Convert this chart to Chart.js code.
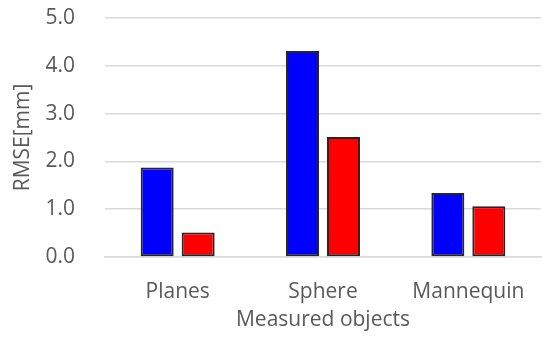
<!DOCTYPE html>
<html>
<head>
<meta charset="utf-8">
<script src="https://cdn.jsdelivr.net/npm/chart.js@4/dist/chart.umd.min.js"></script>
<style>
html, body { margin: 0; padding: 0; background: #fff; }
#wrap { width: 542px; height: 341px; }
</style>
</head>
<body>
<div id="wrap"><canvas id="canvas" width="542" height="341"></canvas></div>
<script>
// values
let objects = ['Planes', 'Sphere', 'Mannequin'];
let blueValues = [1.87, 4.31, 1.34];
let redValues = [0.51, 2.51, 1.06];
let yTicks = [0, 1, 2, 3, 4, 5];

let font = "'Open Sans', 'Liberation Sans', sans-serif";
let grey = '#595959';

let canvas = document.getElementById('canvas');
let myChart = new Chart(canvas, {
  type: 'bar',
  data: {
    labels: objects,
    datasets: [{
      label: 'Series 1',
      data: blueValues,
      backgroundColor: '#0000ff',
      borderColor: '#262626',
      borderWidth: 2,
      borderSkipped: false,
      categoryPercentage: 0.564,
      barPercentage: 0.805
    }, {
      label: 'Series 2',
      data: redValues,
      backgroundColor: '#ff0000',
      borderColor: '#262626',
      borderWidth: 2,
      borderSkipped: false,
      categoryPercentage: 0.564,
      barPercentage: 0.805
    }]
  },
  options: {
    responsive: false,
    animation: false,
    layout: { padding: { top: 18, right: 1, left: 0, bottom: 0 } },
    plugins: { legend: { display: false }, tooltip: { enabled: false } },
    scales: {
      x: {
        grid: { display: false },
        border: { color: '#d9d9d9', width: 1.5 },
        ticks: { color: grey, font: { family: font, size: 21 }, padding: 14 },
        title: {
          display: true, text: 'Measured objects', color: grey,
          font: { family: font, size: 21 }, padding: { top: 0, bottom: 8 }
        },
        afterFit: function (scale) { scale.height = 84; }
      },
      y: {
        min: 0, max: 5,
        afterBuildTicks: function (scale) {
          scale.ticks = yTicks.map(v => ({ value: v }));
        },
        grid: { color: '#d9d9d9', lineWidth: 1.5, drawTicks: false },
        border: { display: false },
        ticks: {
          color: grey, font: { family: font, size: 21 }, padding: 30,
          callback: v => v.toFixed(1)
        },
        title: {
          display: true, text: 'RMSE[mm]', color: grey,
          font: { family: font, size: 21 }, padding: { top: 10, bottom: 0 }
        },
        afterFit: function (scale) {
          scale.width = 105;
          scale.paddingTop = 0;
          scale.paddingBottom = 0;
        }
      }
    }
  }
});
</script>
</body>
</html>
